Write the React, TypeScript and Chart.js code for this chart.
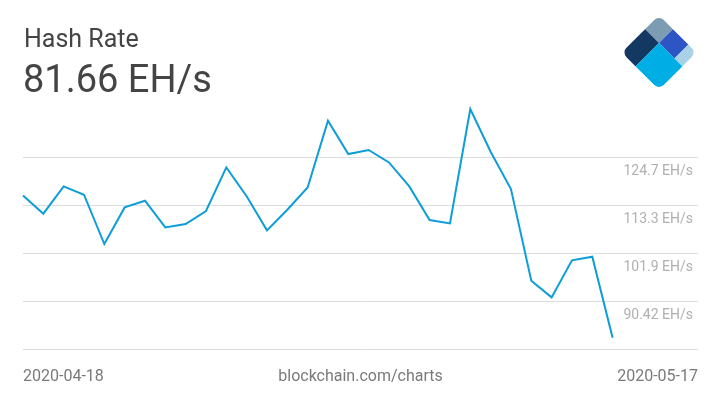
import React, { useEffect, useRef } from "react";
import { Chart, registerables } from "chart.js";

Chart.register(...registerables);

const dates = [
  "2020-04-18", "2020-04-19", "2020-04-20", "2020-04-21", "2020-04-22", "2020-04-23",
  "2020-04-24", "2020-04-25", "2020-04-26", "2020-04-27", "2020-04-28", "2020-04-29",
  "2020-04-30", "2020-05-01", "2020-05-02", "2020-05-03", "2020-05-04", "2020-05-05",
  "2020-05-06", "2020-05-07", "2020-05-08", "2020-05-09", "2020-05-10", "2020-05-11",
  "2020-05-12", "2020-05-13", "2020-05-14", "2020-05-15", "2020-05-16", "2020-05-17",
];

const hashRate = [
  115.59, 111.23, 117.73, 115.75, 104.0, 112.73, 114.32, 107.96, 108.77, 111.87,
  122.26, 115.4, 107.25, 112.18, 117.49, 133.39, 125.45, 126.41, 123.45, 117.73,
  109.72, 108.91, 136.18, 126.0, 117.11, 95.26, 91.28, 100.1, 100.98, 81.66,
];

const yTickValues = [78.98, 90.42, 101.86, 113.3, 124.74];
const yMin = 78.98;
const yMax = 136.18;
const xTickLabels = ["2020-04-18", "blockchain.com/charts", "2020-05-17"];
const xMax = 33.2;

const titleText = "Hash Rate";
const valueText = "81.66 EH/s";

function Logo() {
  return (
    <svg width={720} height={405} style={{ position: "absolute", left: 0, top: 0, pointerEvents: "none" }}>
      <defs>
        <clipPath id="lg">
          <rect x={0} y={0} width={51} height={51} rx={7} ry={7} />
        </clipPath>
      </defs>
      <g transform="translate(659,15) rotate(45) scale(1.04)">
        <g clipPath="url(#lg)">
          <rect x={0} y={0} width={19} height={19} fill="#7b9cb2" />
          <rect x={0} y={19} width={19} height={32} fill="#133862" />
          <rect x={19} y={0} width={21} height={19} fill="#2d56c4" />
          <rect x={40} y={0} width={11} height={19} fill="#a9d1e8" />
          <rect x={19} y={19} width={32} height={32} fill="#00aee6" />
        </g>
      </g>
    </svg>
  );
}

export default function App() {
  const ref = useRef<HTMLCanvasElement | null>(null);

  useEffect(() => {
    if (!ref.current) return;
    const chart = new Chart(ref.current, {
      type: "line",
      data: {
        datasets: [
          {
            data: hashRate.map((v, i) => ({ x: i, y: v })),
            borderColor: "#0d9dd8",
            borderWidth: 2,
            pointRadius: 0,
            tension: 0,
            fill: false,
            clip: 6,
          },
        ],
      },
      options: {
        animation: false,
        responsive: false,
        maintainAspectRatio: false,
        layout: { padding: { left: 23, right: 22, top: 109, bottom: 0 } },
        plugins: { legend: { display: false }, tooltip: { enabled: false } },
        scales: {
          x: {
            type: "linear",
            min: 0,
            max: xMax,
            afterBuildTicks: (scale: any) => {
              scale.ticks = xTickLabels.map((_, i) => ({ value: (xMax * i) / (xTickLabels.length - 1) }));
            },
            grid: { display: false, drawTicks: false },
            border: { display: false },
            ticks: {
              autoSkip: false,
              maxRotation: 0,
              align: "inner",
              padding: 20,
              color: "#7a7a7a",
              font: { family: "Roboto", size: 16, lineHeight: 1 },
              callback: (_v: any, i: number) => xTickLabels[i],
            },
          },
          y: {
            type: "linear",
            position: "right",
            min: yMin,
            max: yMax,
            afterBuildTicks: (scale: any) => {
              scale.ticks = yTickValues.map((v) => ({ value: v }));
            },
            grid: { color: "#dcdcdc", lineWidth: 1, drawTicks: false },
            border: { display: false },
            ticks: {
              mirror: true,
              padding: -5,
              labelOffset: 14,
              color: "#b0b0b0",
              font: { family: "Roboto", size: 14 },
              callback: (v: any, i: number) => (i === 0 ? "" : Number(v).toPrecision(4) + " EH/s"),
            },
          },
        },
      },
    });
    return () => chart.destroy();
  }, []);

  return (
    <div style={{ position: "absolute", left: 0, top: 0, width: 720, height: 405, background: "#fff", overflow: "hidden" }}>
      <canvas ref={ref} width={720} height={405} style={{ position: "absolute", left: 0, top: 0, width: 720, height: 405 }} />
      <div style={{ position: "absolute", left: 24, top: 25.7, fontFamily: "Roboto", fontSize: 25, lineHeight: "25px", color: "#444", whiteSpace: "nowrap" }}>
        {titleText}
      </div>
      <div style={{ position: "absolute", left: 23, top: 59.7, fontFamily: "Roboto", fontSize: 38, lineHeight: "38px", color: "#444", whiteSpace: "nowrap" }}>
        {valueText}
      </div>
      <Logo />
    </div>
  );
}
